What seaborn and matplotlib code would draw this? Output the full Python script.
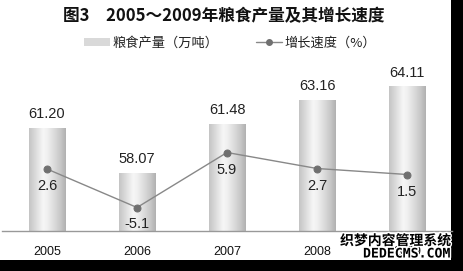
import numpy as np
import pandas as pd
import matplotlib
matplotlib.use("Agg")
import matplotlib.pyplot as plt
import seaborn as sns
from matplotlib.patches import Rectangle, Patch
from matplotlib.lines import Line2D
from matplotlib.colors import LinearSegmentedColormap
import matplotlib.patheffects as pe

years = ["2005", "2006", "2007", "2008", "2009"]
output = [61.20, 58.07, 61.48, 63.16, 64.11]
growth = [2.6, -5.1, 5.9, 2.7, 1.5]
output_labels = ["61.20", "58.07", "61.48", "63.16", "64.11"]
growth_labels = ["2.6", "-5.1", "5.9", "2.7", "1.5"]
title = "图3　2005～2009年粮食产量及其增长速度"
legend_bar = "粮食产量（万吨）"
legend_line = "增长速度（%）"

sns.set_theme(style="white")
plt.rcParams["font.family"] = ["Liberation Sans", "Noto Sans CJK SC", "DejaVu Sans"]
cjk = ["Noto Sans CJK SC", "DejaVu Sans"]

W, H = 463, 271
YMIN, YMAX = 54, 66
fig = plt.figure(figsize=(W / 100, H / 100), dpi=100, facecolor="black")

# white canvas area (reference has a black strip on the right and bottom)
bg = fig.add_axes([0, 11 / H, 451 / W, 1 - 11 / H], zorder=-10)
bg.set_facecolor("white")
bg.set_axis_off()
bg.add_patch(Rectangle((0, 0), 1, 1, transform=bg.transAxes, facecolor="white",
                       edgecolor="none"))

ax = fig.add_axes([2 / W, (H - 231) / H, 450 / W, (231 - 60) / H])
ax.set_facecolor("none")
df = pd.DataFrame({"year": years, "output": output, "growth": growth})
sns.barplot(data=df, x="year", y="output", ax=ax, width=0.41, color="#dddddd",
            edgecolor="none", saturation=1)

cmap = LinearSegmentedColormap.from_list(
    "cyl", [(0, "#c4c4c4"), (0.38, "#f6f6f6"), (0.5, "#f0f0f0"), (0.85, "#c8c8c8"), (1, "#b0b0b0")])
grad = np.linspace(0, 1, 256).reshape(1, -1)
for p in ax.patches:
    x0 = p.get_x()
    w, h = p.get_width(), p.get_height()
    ax.imshow(grad, cmap=cmap, aspect="auto", extent=(x0, x0 + w, YMIN, h),
              zorder=2, interpolation="bilinear")
    p.set_facecolor("none")
ax.set_xlim(-0.5, 4.5)
ax.set_ylim(YMIN, YMAX)

for i, (v, lab) in enumerate(zip(output, output_labels)):
    ax.annotate(lab, (i, v), xytext=(0, 14), textcoords="offset pixels",
                ha="center", va="center", fontsize=10.5, color="#222222")

ax2 = ax.twinx()
ax2.set_facecolor("none")
sns.lineplot(data=df, x="year", y="growth", ax=ax2, color="#888888", lw=1,
             marker="o", markersize=5, markerfacecolor="#707070", markeredgecolor="#707070")
ax2.set_ylim(-9.8, 24.4)
ax2.set_xlim(-0.5, 4.5)
for i, (v, lab) in enumerate(zip(growth, growth_labels)):
    ax2.annotate(lab, (i, v), xytext=(0, -17), textcoords="offset pixels",
                 ha="center", va="center", fontsize=10.5, color="#222222")

for a in (ax, ax2):
    a.set_xlabel("")
    a.set_ylabel("")
    a.set_yticks([])
    for s in ["top", "left", "right"]:
        a.spines[s].set_visible(False)
ax2.spines["bottom"].set_visible(False)
ax.spines["bottom"].set_color("#999999")
ax.spines["bottom"].set_linewidth(1)

ax.set_xticks(range(len(years)))
ax.set_xticklabels(years, fontsize=9, color="#111111")
ax.tick_params(axis="x", which="major", length=0, pad=11)
ax.set_xticks([0.5, 1.5, 2.5, 3.5], minor=True)
ax.tick_params(axis="x", which="minor", length=4, color="#999999", direction="out", width=1)
ax2.tick_params(axis="x", length=0, labelbottom=False)

fig.text(224 / W, 1 - 16 / H, title, ha="center", va="center", fontsize=12,
         fontweight="bold", family=cjk, color="#111111")

handles = [Patch(facecolor="#d9d9d9", edgecolor="none"),
           Line2D([], [], color="#888888", lw=1, marker="o", markersize=4,
                  markerfacecolor="#707070", markeredgecolor="#707070")]
leg = fig.legend(handles, [legend_bar, legend_line], loc="center", ncol=2,
                 bbox_to_anchor=(230 / W, 1 - 43 / H), frameon=False,
                 prop={"family": cjk, "size": 9.5}, handlelength=2.0, handleheight=0.6,
                 handletextpad=0.2, columnspacing=2.8)
for t in leg.get_texts():
    t.set_color("#222222")

wm = [pe.withStroke(linewidth=2, foreground="white")]
fig.text(451 / W, 1 - 241 / H, "织梦内容管理系统", ha="right", va="center", fontsize=10,
         fontweight="bold", family=cjk, color="black", path_effects=wm, zorder=30)
fig.text(451 / W, 1 - 254 / H, "DEDECMS.COM", ha="right", va="center", fontsize=9.5,
         fontweight="bold", family=["DejaVu Sans Mono", "DejaVu Sans"], color="black",
         path_effects=wm, zorder=30)

fig.savefig("out.png", dpi=100, facecolor="black")
